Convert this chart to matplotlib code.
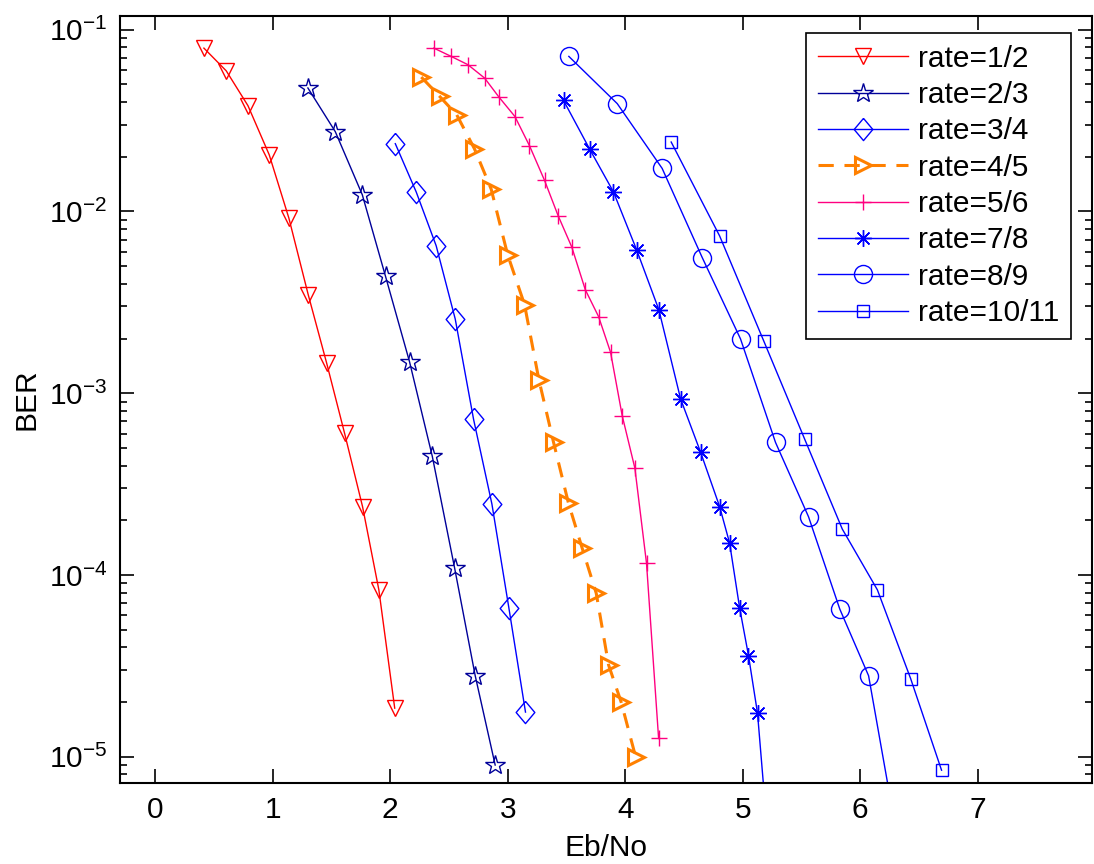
import matplotlib
matplotlib.use("Agg")
import matplotlib.pyplot as plt

plt.rcParams['font.family'] = ['Liberation Sans', 'DejaVu Sans']
plt.rcParams['font.size'] = 21.5
plt.rcParams['mathtext.fontset'] = 'custom'
plt.rcParams['mathtext.rm'] = 'Liberation Sans'

# data
x_12 = [0.414, 0.604, 0.789, 0.970, 1.137, 1.302, 1.458, 1.611, 1.764, 1.903, 2.038]
ber_12 = [0.0792, 0.0594, 0.0382, 0.0205, 0.0092, 0.00348, 0.00147, 6.03e-4, 2.38e-4, 8.28e-5, 1.85e-5]

x_23 = [1.299, 1.532, 1.762, 1.960, 2.164, 2.358, 2.548, 2.723, 2.893]
ber_23 = [0.0478, 0.0275, 0.01236, 0.00439, 0.00149, 4.49e-4, 1.09e-4, 2.79e-5, 9.0e-6]

x_34 = [2.043, 2.221, 2.391, 2.553, 2.709, 2.865, 3.009, 3.151]
ber_34 = [0.0236, 0.0128, 0.00647, 0.00256, 7.19e-4, 2.46e-4, 6.62e-5, 1.76e-5]

x_45 = [2.264, 2.420, 2.566, 2.717, 2.859, 2.999, 3.143, 3.265, 3.390, 3.517,
        3.634, 3.753, 3.858, 3.966, 4.088]
ber_45 = [0.0549, 0.0430, 0.0340, 0.0221, 0.01327, 0.00578, 0.00307, 0.001186, 5.36e-4, 2.48e-4,
          1.40e-4, 7.94e-5, 3.20e-5, 1.99e-5, 1.0e-5]

x_56 = [2.371, 2.519, 2.661, 2.803, 2.925, 3.061, 3.185, 3.313, 3.429, 3.545,
        3.660, 3.773, 3.875, 3.974, 4.082, 4.181, 4.284]
ber_56 = [0.0792, 0.0713, 0.0642, 0.0542, 0.0426, 0.0333, 0.0230, 0.01483, 0.00947, 0.00637,
          0.00371, 0.00264, 0.00168, 7.53e-4, 3.87e-4, 1.16e-4, 1.26e-5]

x_78 = [3.475, 3.696, 3.900, 4.099, 4.286, 4.471, 4.641, 4.803, 4.888, 4.973,
        5.049, 5.126, 5.22]
ber_78 = [0.0408, 0.0221, 0.0128, 0.00610, 0.00288, 9.31e-4, 4.74e-4, 2.38e-4, 1.50e-4, 6.62e-5,
          3.60e-5, 1.73e-5, 3.2e-6]

x_89 = [3.520, 3.932, 4.314, 4.655, 4.981, 5.279, 5.560, 5.826, 6.071, 6.33]
ber_89 = [0.0713, 0.0392, 0.01726, 0.00558, 0.00199, 5.36e-4, 2.09e-4, 6.49e-5, 2.79e-5, 3.16e-6]

x_1011 = [4.391, 4.803, 5.180, 5.526, 5.847, 6.146, 6.429, 6.692]
ber_1011 = [0.0241, 0.00734, 0.00193, 5.61e-4, 1.79e-4, 8.28e-5, 2.69e-5, 8.43e-6]

labels = ['rate=1/2', 'rate=2/3', 'rate=3/4', 'rate=4/5',
          'rate=5/6', 'rate=7/8', 'rate=8/9', 'rate=10/11']

fig = plt.figure(figsize=(10.94, 8.64), dpi=100)
ax = fig.add_axes([0.1097, 0.0934, 0.8882, 0.8881])

diamond = [(0, 1), (0.84, 0), (0, -1), (-0.84, 0), (0, 1)]

ax.semilogy(x_12, ber_12, color='r', lw=1, marker='v', ms=11.5, mfc='none', label=labels[0])
ax.semilogy(x_23, ber_23, color=(0, 0, 0.6), lw=1, marker='*', ms=14.5, mfc='none', label=labels[1])
ax.semilogy(x_34, ber_34, color='b', lw=1, marker=diamond, ms=16, mfc='none', label=labels[2])
ax.semilogy(x_45, ber_45, color='#FF8000', lw=2.2, ls=(0, (5, 3.5)), marker='>', ms=12,
            mew=2.2, mfc='none', label=labels[3])
ax.semilogy(x_56, ber_56, color='#FF0080', lw=1, marker='+', ms=12, mew=1, label=labels[4])
ax.semilogy(x_78, ber_78, color='b', lw=1, marker=(8, 2, 0), ms=12, mew=1, label=labels[5])
ax.semilogy(x_89, ber_89, color='b', lw=1, marker='o', ms=13, mfc='none', label=labels[6])
ax.semilogy(x_1011, ber_1011, color='b', lw=1, marker='s', ms=9, mfc='none', label=labels[7])

ax.set_xlim(-0.3, 7.97)
ax.set_ylim(7.14e-6, 0.119)
ax.set_xticks(range(0, 8))

ax.tick_params(which='both', direction='in', top=True, right=True, width=1.2)
ax.tick_params(which='major', length=10, pad=9)
ax.tick_params(which='minor', length=5)
for s in ax.spines.values():
    s.set_linewidth(1.5)

ax.set_xlabel('Eb/No', labelpad=7)
ax.set_ylabel('BER', labelpad=6)

leg = ax.legend(loc='upper right', bbox_to_anchor=(0.9787, 0.9782), borderaxespad=0,
                fancybox=False, edgecolor='k', framealpha=1,
                handlelength=3.0, handletextpad=0.33, labelspacing=0.28,
                borderpad=0.4)
leg.get_frame().set_linewidth(1.2)

fig.savefig('out.png', dpi=100)
